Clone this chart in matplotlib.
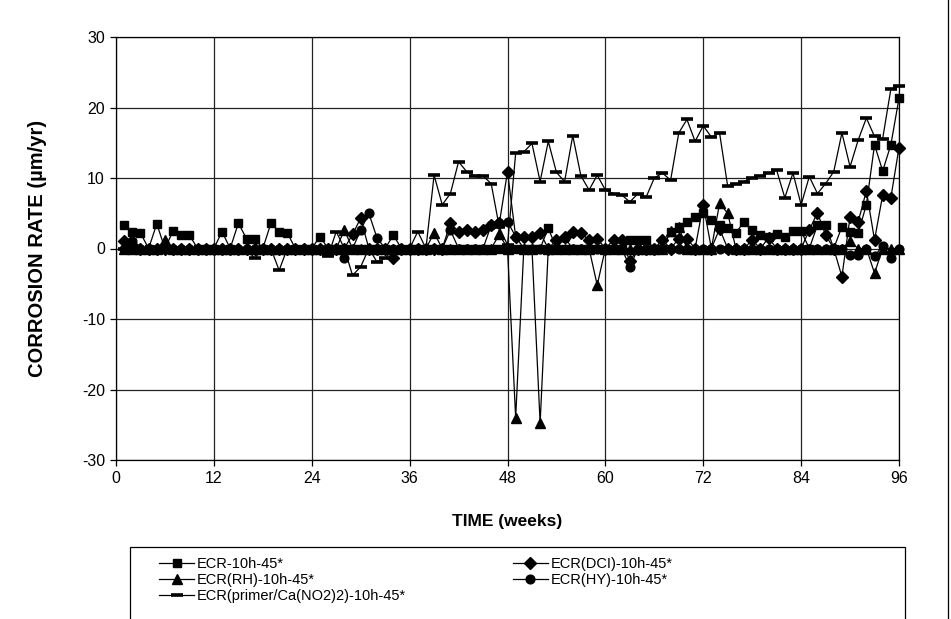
import numpy as np
import matplotlib
matplotlib.use("Agg")
import matplotlib.pyplot as plt
from matplotlib.patches import Rectangle
from matplotlib.lines import Line2D

plt.rcParams['font.family'] = ['Liberation Sans', 'DejaVu Sans']
plt.rcParams['axes.unicode_minus'] = False

# Data (weekly readings, weeks 1..96)
weeks = np.arange(1, 97)

ecr = [3.3, 2.4, 2.2, 0, 3.5, 0, 2.5, 1.9, 1.9, 0, 0, 0,
       2.4, 0, 3.6, 1.4, 1.4, 0, 3.6, 2.4, 2.2, 0, 0, 0,
       1.7, 0, 0, 0, 0, 0, 0, 0, 0, 1.9, 0, 0,
       0, 0, 0, 0, 0, 0, 0, 0, 0, 0, 0, 0,
       0, 0, 0, 0, 2.9, 0, 0, 0, 0, 0, 0, 0,
       0, 0, 1.2, 1.2, 1.2, 0, 0, 2.4, 3.0, 3.8, 4.5, 5.0,
       4.0, 3.4, 2.9, 2.2, 3.8, 2.6, 1.9, 1.7, 2.0, 1.7, 2.5, 2.5,
       0, 3.3, 3.3, 0, 3.1, 2.3, 2.2, 6.2, 14.7, 11.0, 14.7, 21.3]

ecr_dci = [1.0, 0.5, 0, 0, 0, 0, 0, 0, 0, 0, 0, 0,
           0, 0, 0, 0, 0, 0, 0, 0, 0, 0, 0, 0,
           0, 0, 0, 0, 2.0, 4.3, 0, 0, 0, -1.4, 0, 0,
           0, 0, 0, 0, 3.6, 2.4, 2.6, 2.4, 2.6, 3.3, 3.6, 10.9,
           1.7, 1.7, 1.7, 2.2, 0, 1.2, 1.7, 2.4, 2.2, 1.2, 1.4, 0,
           1.2, 1.2, -1.8, 0, 0, 0, 1.2, 0, 1.4, 1.4, 0, 6.2,
           0, 2.8, 0, 0, 0, 1.2, 0, 1.5, 0, 0, 0, 0,
           2.6, 5.1, 1.9, 0, -4.0, 4.5, 3.8, 8.2, 1.2, 7.6, 7.2, 14.3]

ecr_rh = [0, 0, 0, 0, 0, 1.2, 0, 0, 0, 0, 0, 0,
          0, 0, 0, 0, 0, 0, 0, 0, 0, 0, 0, 0,
          0, 0, 0, 2.6, 0, 0, 0, 0, 0, 0, 0, 0,
          0, 0, 2.2, 0, 0, 0, 0, 0, 0, 0, 2.0, 0,
          -24.0, 0, 0, -24.8, 0, 0, 0, 0, 0, 0, -5.2, 0,
          0, 0, 0, 0, 0, 0, 0, 2.5, 3.0, 0, 0, 0,
          0, 6.4, 5.0, 0, 0, 0, 0, 0, 0, 0, 0, 0,
          0, 0, 0, 0, 0, 1.0, 0, 0, -3.5, 0, 0, 0]

ecr_hy = [0, 1.0, 0, 0, 0, 0, 0, 0, 0, 0, 0, 0,
          0, 0, 0, 0, 0, 0, 0, 0, 0, 0, 0, 0,
          0, 0, 0, -1.4, 0, 2.6, 5.0, 1.5, 0, 0, 0, 0,
          0, 0, 0, 0, 2.6, 0, 0, 0, 0, 3.3, 3.6, 3.8,
          1.7, 0, 0, 0, 0, 0, 1.5, 0, 0, 0, 0, 0,
          0, 0, -2.6, 0, 0, 0, 0, 0, 0, 0, 0, 0,
          0, 0, 0, 0, 0, 0, 0, 0, 0, 0, 0, 0,
          0, 0, 0, 0, 0, -0.9, -0.9, 0, -1.1, 0.4, -1.3, 0]

ecr_primer = [0, 0, 0, 0, 0, 0, 0, 0, 0, 0, 0, 0,
              0, 0, 0, 0, -1.4, 0, 0, -3.1, 0, 0, 0, 0,
              0, -1.1, 2.4, 0, -3.8, -2.6, 0, -1.9, -1.4, 0, 0, 0,
              2.4, 0, 10.4, 6.2, 7.8, 12.3, 10.9, 10.3, 10.3, 9.2, 3.0, 0.5,
              13.5, 13.7, 14.9, 9.5, 15.2, 10.8, 9.5, 16.0, 10.3, 8.3, 10.4, 8.3,
              7.8, 7.6, 6.6, 7.8, 7.3, 10.0, 10.7, 9.7, 16.4, 18.3, 15.2, 17.4,
              15.8, 16.4, 8.8, 9.1, 9.5, 10.0, 10.3, 10.7, 11.1, 7.2, 10.7, 6.2,
              10.2, 7.8, 9.2, 10.9, 16.4, 11.6, 15.4, 18.5, 15.9, 15.6, 22.6, 23.0]

labels = ["ECR-10h-45*", "ECR(DCI)-10h-45*", "ECR(RH)-10h-45*",
          "ECR(HY)-10h-45*", "ECR(primer/Ca(NO2)2)-10h-45*"]

narrow = ['Liberation Sans Narrow', 'Liberation Sans']

fig = plt.figure(figsize=(9.51, 6.19), dpi=100)
ax = fig.add_axes([116 / 951, 1 - 460 / 619, (899 - 116) / 951, (460 - 37) / 619])

kw = dict(color='black', lw=0.9, clip_on=False)
h_ecr, = ax.plot(weeks, ecr, marker='s', ms=6.3, **kw)
h_rh, = ax.plot(weeks, ecr_rh, marker='^', ms=7.3, **kw)
h_dci, = ax.plot(weeks, ecr_dci, marker='D', ms=5.8, **kw)
h_hy, = ax.plot(weeks, ecr_hy, marker='o', ms=6.3, **kw)
h_pr, = ax.plot(weeks, ecr_primer, marker='_', ms=9, mew=2.6, **kw)

ax.set_xlim(0, 96)
ax.set_ylim(-30, 30)
ax.set_xticks(np.arange(0, 97, 12))
ax.set_yticks(np.arange(-30, 31, 10))
ax.grid(True, color='#222222', lw=0.9)
ax.set_axisbelow(True)
for s in ax.spines.values():
    s.set_linewidth(0.9)
ax.tick_params(direction='out', length=4, width=0.9, labelsize=11.5, pad=4)

ax.set_xlabel("TIME (weeks)", fontsize=12.5, fontweight='bold', labelpad=20, family=narrow)
ax.set_ylabel("CORROSION RATE (µm/yr)", fontsize=14.5, fontweight='bold', labelpad=25)

# legend box (wide frame like the excel chart, clipped at the bottom)
fig.patches.append(Rectangle((130 / 951, -0.1), (905 - 130) / 951, 0.1 + 1 - 547 / 619,
                             transform=fig.transFigure, fill=False, ec='black', lw=0.9))
leg = fig.legend([h_ecr, h_rh, h_pr, h_dci, h_hy],
                 [labels[0], labels[2], labels[4], labels[1], labels[3]],
                 ncol=2, loc='upper left', bbox_to_anchor=(152 / 951, 1 - 550 / 619),
                 frameon=False, handlelength=2.4, handletextpad=0.2, labelspacing=0.12,
                 columnspacing=7.3, borderpad=0,
                 prop={'family': narrow, 'size': 10.5})

# right edge of the chart area border
fig.lines.append(Line2D([0.997, 0.997], [0, 1], transform=fig.transFigure, color='black', lw=0.9))

plt.savefig("out.png", dpi=100)
